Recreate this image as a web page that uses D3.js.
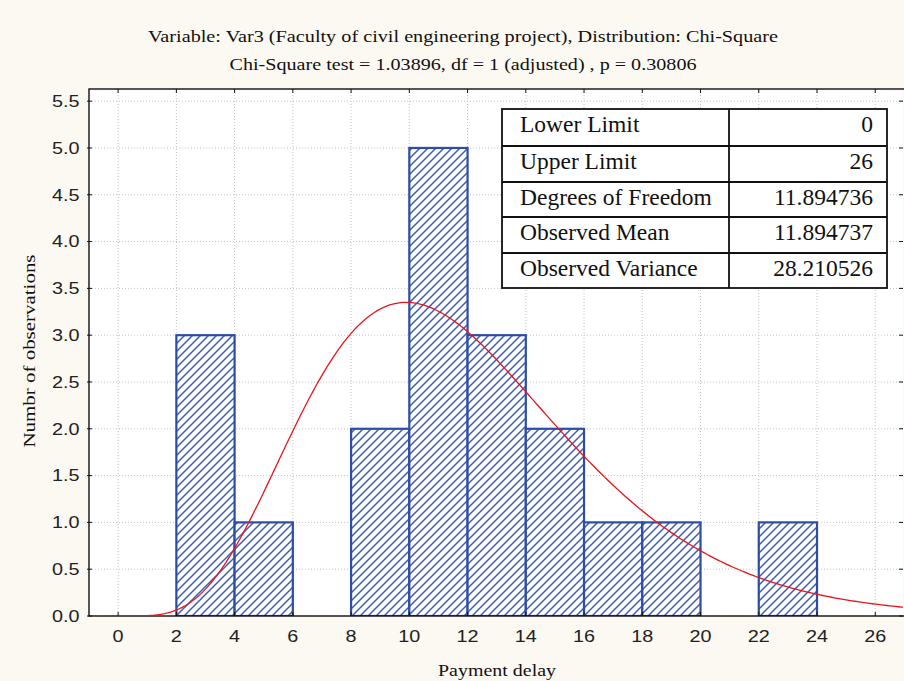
<!DOCTYPE html>
<html>
<head>
<meta charset="utf-8">
<script src="https://cdn.jsdelivr.net/npm/d3@7/dist/d3.min.js"></script>
<style>
  html, body { margin: 0; padding: 0; background: #fcf9f2; }
  svg { display: block; }
</style>
</head>
<body>
<svg id="chart" width="904" height="681"></svg>
<script>
// Histogram bins (class start, class end) and observed counts
const binStarts = [2, 4, 8, 10, 12, 14, 16, 18, 22];
const binEnds   = [4, 6, 10, 12, 14, 16, 18, 20, 24];
const counts    = [3, 1, 2, 5, 3, 2, 1, 1, 1];

const xTicks = [0, 2, 4, 6, 8, 10, 12, 14, 16, 18, 20, 22, 24, 26];
const yTicks = [0, 0.5, 1, 1.5, 2, 2.5, 3, 3.5, 4, 4.5, 5, 5.5];

const titleLines = [
  "Variable: Var3 (Faculty of civil engineering project), Distribution: Chi-Square",
  "Chi-Square test = 1.03896, df = 1 (adjusted) , p = 0.30806"
];
const xTitle = "Payment delay";
const yTitle = "Numbr of observations";

const statLabels = ["Lower Limit", "Upper Limit", "Degrees of Freedom", "Observed Mean", "Observed Variance"];
const statValues = ["0", "26", "11.894736", "11.894737", "28.210526"];

// Fitted chi-square parameters
const dfFit = 11.894736;
const nObs = 19;
const binWidth = 2;

const svg = d3.select("#chart");
const W = 904, H = 681;

const pL = 89, pT = 89, pB = 616;
const x = d3.scaleLinear().domain([-1, 28]).range([pL, pL + 29 * 29.12]);
const y = d3.scaleLinear().domain([0, 5.63]).range([pB, pT]);
const pR = W - 1;

// plot area
svg.append("rect").attr("x", pL).attr("y", pT)
  .attr("width", pR - pL).attr("height", pB - pT).attr("fill", "#ffffff");

const defs = svg.append("defs");
defs.append("clipPath").attr("id", "plotClip")
  .append("rect").attr("x", pL).attr("y", pT).attr("width", pR - pL).attr("height", pB - pT);

const hatch = defs.append("pattern").attr("id", "hatch")
  .attr("patternUnits", "userSpaceOnUse").attr("width", 8).attr("height", 8);
hatch.append("rect").attr("width", 8).attr("height", 8).attr("fill", "#ffffff");
hatch.append("path").attr("d", "M-2,10 L10,-2 M-2,2 L2,-2 M6,10 L10,6")
  .attr("stroke", "#3d5cb6").attr("stroke-width", 1.5);

const plot = svg.append("g").attr("clip-path", "url(#plotClip)");

// grid
plot.selectAll(".gx").data(xTicks).enter().append("line")
  .attr("x1", d => x(d)).attr("x2", d => x(d)).attr("y1", pT).attr("y2", pB)
  .attr("stroke", "#c4c4c4").attr("stroke-width", 1).attr("stroke-dasharray", "1,2");
plot.selectAll(".gy").data(yTicks).enter().append("line")
  .attr("x1", pL).attr("x2", pR).attr("y1", d => y(d)).attr("y2", d => y(d))
  .attr("stroke", "#c4c4c4").attr("stroke-width", 1).attr("stroke-dasharray", "1,2");

// bars
plot.selectAll(".bar").data(counts).enter().append("rect")
  .attr("x", (d, i) => x(binStarts[i]))
  .attr("y", d => y(d))
  .attr("width", (d, i) => x(binEnds[i]) - x(binStarts[i]))
  .attr("height", d => y(0) - y(d))
  .attr("fill", "url(#hatch)")
  .attr("stroke", "#2d4ca6").attr("stroke-width", 2.2);

// chi-square density scaled to expected counts
function lnGamma(z) {
  const g = 7, c = [0.99999999999980993, 676.5203681218851, -1259.1392167224028,
    771.32342877765313, -176.61502916214059, 12.507343278686905,
    -0.13857109526572012, 9.9843695780195716e-6, 1.5056327351493116e-7];
  z -= 1;
  let a = c[0];
  const t = z + g + 0.5;
  for (let i = 1; i < g + 2; i++) a += c[i] / (z + i);
  return 0.5 * Math.log(2 * Math.PI) + (z + 0.5) * Math.log(t) - t + Math.log(a);
}
function chiPdf(v, k) {
  if (v <= 0) return 0;
  return Math.exp((k / 2 - 1) * Math.log(v) - v / 2 - (k / 2) * Math.log(2) - lnGamma(k / 2));
}
const curveX = d3.range(0, 28.01, 0.1);
const line = d3.line().x(d => x(d)).y(d => y(nObs * binWidth * chiPdf(d, dfFit)));

// frame
svg.append("rect").attr("x", pL).attr("y", pT).attr("width", pR - pL + 5).attr("height", pB - pT)
  .attr("fill", "none").attr("stroke", "#111").attr("stroke-width", 1.4);

// ticks
const tk = svg.append("g").attr("stroke", "#111").attr("stroke-width", 1);
xTicks.forEach(t => {
  tk.append("line").attr("x1", x(t)).attr("x2", x(t)).attr("y1", pB).attr("y2", pB - 4);
  tk.append("line").attr("x1", x(t)).attr("x2", x(t)).attr("y1", pT).attr("y2", pT + 4);
});
yTicks.forEach(t => {
  tk.append("line").attr("x1", pL - 2).attr("x2", pL + 3).attr("y1", y(t)).attr("y2", y(t));
  tk.append("line").attr("x1", pR).attr("x2", pR - 4).attr("y1", y(t)).attr("y2", y(t));
});

// fitted curve, drawn on top of the axis line
svg.append("g").attr("clip-path", "url(#plotClip)")
  .append("path").datum(curveX).attr("d", line)
  .attr("fill", "none").attr("stroke", "#e8141c").attr("stroke-width", 1.3);

// tick labels (wide sans digits)
const sans = "Liberation Sans, Arial, sans-serif";
svg.selectAll(".xl").data(xTicks).enter().append("text")
  .attr("transform", d => `translate(${x(d)},642) scale(1.2,1)`).attr("text-anchor", "middle")
  .attr("font-family", sans).attr("font-size", 16.5).attr("fill", "#222")
  .text(d => d);
svg.selectAll(".yl").data(yTicks).enter().append("text")
  .attr("transform", d => `translate(79.5,${y(d) + 5.8}) scale(1.2,1)`).attr("text-anchor", "end")
  .attr("font-family", sans).attr("font-size", 16.5).attr("fill", "#222")
  .text(d => d3.format(".1f")(d));

// titles
const serif = "Liberation Serif, Times New Roman, serif";
const titleWidths = [630, 467];
titleLines.forEach((t, i) => {
  svg.append("text").attr("x", 463).attr("y", 42 + i * 27.5).attr("text-anchor", "middle")
    .attr("font-family", serif).attr("font-size", 17.5).attr("fill", "#111")
    .attr("textLength", titleWidths[i]).attr("lengthAdjust", "spacingAndGlyphs").text(t);
});
svg.append("text").attr("x", 497).attr("y", 676).attr("text-anchor", "middle")
  .attr("font-family", serif).attr("font-size", 17.5).attr("fill", "#111")
  .attr("textLength", 118).attr("lengthAdjust", "spacingAndGlyphs").text(xTitle);
svg.append("text").attr("transform", "translate(35,351) rotate(-90)").attr("text-anchor", "middle")
  .attr("font-family", serif).attr("font-size", 17.5).attr("fill", "#111")
  .attr("textLength", 193).attr("lengthAdjust", "spacingAndGlyphs").text(yTitle);

// statistics table
const tX = 502, tY = 109, tW = 385, colX = 729;
const rowEdges = [109, 146, 182, 217, 253, 288];
const tbl = svg.append("g");
tbl.append("rect").attr("x", tX).attr("y", tY).attr("width", tW).attr("height", rowEdges[5] - tY)
  .attr("fill", "#ffffff").attr("stroke", "#111").attr("stroke-width", 1.8);
rowEdges.slice(1, 5).forEach(r => {
  tbl.append("line").attr("x1", tX).attr("x2", tX + tW).attr("y1", r).attr("y2", r)
    .attr("stroke", "#111").attr("stroke-width", 1.8);
});
tbl.append("line").attr("x1", colX).attr("x2", colX).attr("y1", tY).attr("y2", rowEdges[5])
  .attr("stroke", "#111").attr("stroke-width", 1.8);
statLabels.forEach((s, i) => {
  const r0 = rowEdges[i];
  tbl.append("text").attr("x", 520).attr("y", r0 + 22.5).attr("font-family", serif).attr("font-size", 23.5)
    .attr("fill", "#111").text(s);
  tbl.append("text").attr("x", 873).attr("y", r0 + 22.5).attr("text-anchor", "end").attr("font-family", serif)
    .attr("font-size", 23.5).attr("fill", "#111").text(statValues[i]);
});
</script>
</body>
</html>
